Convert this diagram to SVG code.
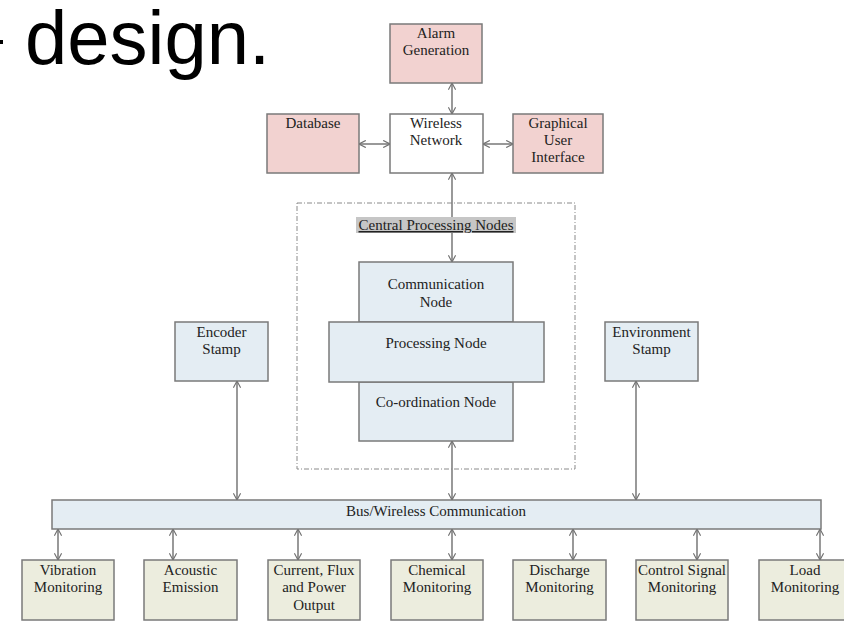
<svg xmlns="http://www.w3.org/2000/svg" width="844" height="625" viewBox="0 0 844 625">
<style>
.box{stroke:#7a7a7a;stroke-width:1.5}
.pink{fill:#f2d2d0}
.white{fill:#ffffff}
.blue{fill:#e4edf3}
.beige{fill:#ecedde}
.t{font-family:"Liberation Serif","Times New Roman",serif;font-size:15px;fill:#222;text-anchor:middle}
.c{stroke:#808080;stroke-width:1.6;fill:none;marker-start:url(#ah);marker-end:url(#ah)}
</style>
<defs>
<marker id="ah" viewBox="0 0 10 10" refX="9.5" refY="5" markerWidth="8" markerHeight="8" markerUnits="userSpaceOnUse" orient="auto-start-reverse">
<path d="M1,0.5 L9.5,5 L1,9.5" fill="none" stroke="#707070" stroke-width="1.4"/>
</marker>
</defs>
<rect width="844" height="625" fill="#ffffff"/>
<g id="title">
<rect x="0" y="40" width="3" height="4" fill="#000"/>
<text x="25" y="64" font-family="Liberation Sans, Arial, sans-serif" font-size="76" fill="#000">design.</text>
</g>
<g id="cpn-frame">
<rect x="297" y="203" width="278" height="266" fill="none" stroke="#8a8a8a" stroke-width="1" stroke-dasharray="5,2,1,2"/>
</g>
<g id="connectors">
<line class="c" x1="452" y1="83" x2="452" y2="114"/>
<line class="c" x1="359" y1="144" x2="390" y2="144"/>
<line class="c" x1="483" y1="144" x2="513" y2="144"/>
<line class="c" x1="452" y1="173" x2="452" y2="262"/>
<line class="c" x1="452" y1="441" x2="452" y2="500"/>
<line class="c" x1="237" y1="381" x2="237" y2="500"/>
<line class="c" x1="636" y1="381" x2="636" y2="500"/>
<line class="c" x1="58" y1="529" x2="58" y2="560"/>
<line class="c" x1="173" y1="529" x2="173" y2="560"/>
<line class="c" x1="298" y1="529" x2="298" y2="560"/>
<line class="c" x1="452" y1="529" x2="452" y2="560"/>
<line class="c" x1="573" y1="529" x2="573" y2="560"/>
<line class="c" x1="697" y1="529" x2="697" y2="560"/>
<line class="c" x1="820" y1="529" x2="820" y2="560"/>
</g>
<g id="cpn-label">
<rect x="356" y="217" width="160" height="16" fill="#c6c6c6"/>
<text class="t" x="436" y="230" text-decoration="underline">Central Processing Nodes</text>
</g>
<g id="alarm"><rect class="box pink" x="390" y="24" width="92" height="59"/><text class="t" x="436" y="38">Alarm</text><text class="t" x="436" y="55">Generation</text></g>
<g id="database"><rect class="box pink" x="267" y="114" width="92" height="59"/><text class="t" x="313" y="128">Database</text></g>
<g id="wireless"><rect class="box white" x="390" y="114" width="93" height="59"/><text class="t" x="436" y="128">Wireless</text><text class="t" x="436" y="145">Network</text></g>
<g id="gui"><rect class="box pink" x="513" y="114" width="90" height="59"/><text class="t" x="558" y="128">Graphical</text><text class="t" x="558" y="145">User</text><text class="t" x="558" y="162">Interface</text></g>
<g id="communication"><rect class="box blue" x="359" y="262" width="154" height="60"/><text class="t" x="436" y="289">Communication</text><text class="t" x="436" y="307">Node</text></g>
<g id="coordination"><rect class="box blue" x="359" y="382" width="154" height="59"/><text class="t" x="436" y="407">Co-ordination Node</text></g>
<g id="processing"><rect class="box blue" x="329" y="322" width="215" height="60"/><text class="t" x="436" y="348">Processing Node</text></g>
<g id="encoder"><rect class="box blue" x="175" y="322" width="93" height="59"/><text class="t" x="221.5" y="337">Encoder</text><text class="t" x="221.5" y="354">Stamp</text></g>
<g id="environment"><rect class="box blue" x="605" y="322" width="93" height="59"/><text class="t" x="651.5" y="337">Environment</text><text class="t" x="651.5" y="354">Stamp</text></g>
<g id="bus"><rect class="box blue" x="52" y="500" width="769" height="29"/><text class="t" x="436" y="516">Bus/Wireless Communication</text></g>
<g id="vibration"><rect class="box beige" x="22" y="560" width="92" height="60"/><text class="t" x="68" y="575">Vibration</text><text class="t" x="68" y="592">Monitoring</text></g>
<g id="acoustic"><rect class="box beige" x="144" y="560" width="93" height="60"/><text class="t" x="190.5" y="575">Acoustic</text><text class="t" x="190.5" y="592">Emission</text></g>
<g id="current"><rect class="box beige" x="268" y="560" width="92" height="60"/><text class="t" x="314" y="575">Current, Flux</text><text class="t" x="314" y="592">and Power</text><text class="t" x="314" y="610">Output</text></g>
<g id="chemical"><rect class="box beige" x="391" y="560" width="92" height="60"/><text class="t" x="437" y="575">Chemical</text><text class="t" x="437" y="592">Monitoring</text></g>
<g id="discharge"><rect class="box beige" x="513" y="560" width="93" height="60"/><text class="t" x="559.5" y="575">Discharge</text><text class="t" x="559.5" y="592">Monitoring</text></g>
<g id="control"><rect class="box beige" x="636" y="560" width="92" height="60"/><text class="t" x="682" y="575">Control Signal</text><text class="t" x="682" y="592">Monitoring</text></g>
<g id="load"><rect class="box beige" x="759" y="560" width="92" height="60"/><text class="t" x="805" y="575">Load</text><text class="t" x="805" y="592">Monitoring</text></g>
</svg>
